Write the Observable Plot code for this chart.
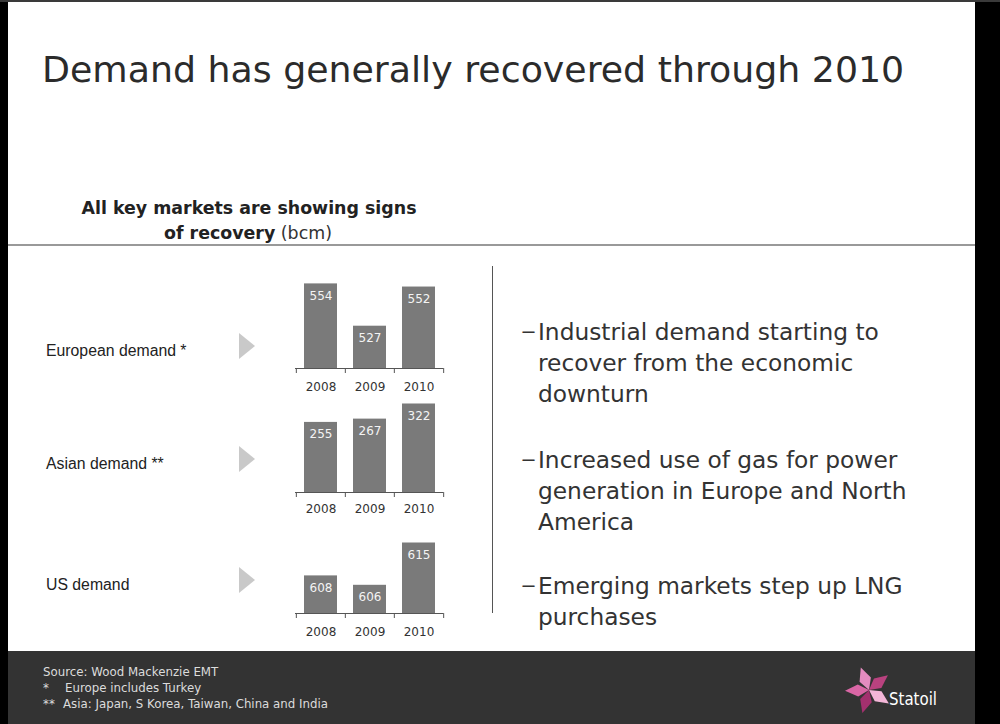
<!DOCTYPE html>
<html>
<head>
<meta charset="utf-8">
<script src="https://cdn.jsdelivr.net/npm/d3@7"></script>
<script src="https://cdn.jsdelivr.net/npm/@observablehq/plot@0.6"></script>
<style>
  html, body { margin: 0; padding: 0; background: #000; }
  #page { position: relative; width: 1000px; height: 724px; background: #000; overflow: hidden; }
  #page svg { position: absolute; }
</style>
</head>
<body>
<div id="page"></div>
<script>
// ---------------- data ----------------
const years = ["2008", "2009", "2010"];
const europeanDemand = [554, 527, 552];
const asianDemand = [255, 267, 322];
const usDemand = [608, 606, 615];
const rowLabels = ["European demand *", "Asian demand **", "US demand"];
const title = "Demand has generally recovered through 2010";
const subtitleLine1 = "All key markets are showing signs";
const subtitleLine2Bold = "of recovery";
const subtitleLine2Unit = " (bcm)";
const bullets = [
  ["Industrial demand starting to", "recover from the economic", "downturn"],
  ["Increased use of gas for power", "generation in Europe and North", "America"],
  ["Emerging markets step up LNG", "purchases"]
];
const sourceNote = "Source: Wood Mackenzie EMT";
const footnotes = [["*", "Europe includes Turkey"], ["**", "Asia: Japan, S Korea, Taiwan, China and India"]];
const brand = "Statoil";

// ---------------- background slide ----------------
const page = document.getElementById("page");
const bg = d3.select(page).append("svg")
  .attr("width", 1000).attr("height", 724)
  .style("left", "0px").style("top", "0px");

bg.append("rect").attr("x", 0).attr("y", 0).attr("width", 1000).attr("height", 724).attr("fill", "#000");
bg.append("rect").attr("x", 0).attr("y", 0).attr("width", 1000).attr("height", 2).attr("fill", "#3a3a3a");
bg.append("rect").attr("x", 8).attr("y", 2).attr("width", 967).attr("height", 649).attr("fill", "#fff");
bg.append("rect").attr("x", 8).attr("y", 651).attr("width", 967).attr("height", 73).attr("fill", "#333");

// title
bg.append("text").attr("x", 42).attr("y", 82)
  .attr("font-family", "DejaVu Sans").attr("font-size", 36.3).attr("fill", "#2b2b2b")
  .text(title);

// subtitle
bg.append("text").attr("x", 249).attr("y", 214).attr("text-anchor", "middle")
  .attr("font-family", "DejaVu Sans").attr("font-size", 17.4).attr("font-weight", "bold").attr("fill", "#222")
  .text(subtitleLine1);
const st2 = bg.append("text").attr("x", 248).attr("y", 239).attr("text-anchor", "middle")
  .attr("font-family", "DejaVu Sans").attr("font-size", 17.4).attr("fill", "#222");
st2.append("tspan").attr("font-weight", "bold").text(subtitleLine2Bold);
st2.append("tspan").attr("font-weight", "normal").attr("fill", "#333").text(subtitleLine2Unit);

// separators
bg.append("line").attr("x1", 8).attr("x2", 975).attr("y1", 245).attr("y2", 245)
  .attr("stroke", "#777").attr("stroke-width", 1.5);
bg.append("line").attr("x1", 492.5).attr("x2", 492.5).attr("y1", 266).attr("y2", 613)
  .attr("stroke", "#555").attr("stroke-width", 1);

// row labels & arrows
const rowCenters = [346, 459, 580];
rowLabels.forEach((lab, i) => {
  bg.append("text").attr("x", 46).attr("y", rowCenters[i] + 9.5)
    .attr("font-family", "Liberation Sans, Arial").attr("font-size", 15.8).attr("fill", "#222")
    .text(lab);
  const c = rowCenters[i];
  bg.append("polygon")
    .attr("points", `239,${c - 13} 255,${c} 239,${c + 13}`)
    .attr("fill", "#c9c9c9");
});

// bullets
const bulletBaselines = [[340, 371, 402], [468, 499, 530], [594, 625]];
bullets.forEach((lines, b) => {
  bg.append("text").attr("x", 521).attr("y", bulletBaselines[b][0] - 1.5)
    .attr("font-family", "DejaVu Sans").attr("font-size", 23.3).attr("fill", "#333")
    .attr("textLength", 15).attr("lengthAdjust", "spacingAndGlyphs")
    .text("\u2013");
  lines.forEach((ln, j) => {
    bg.append("text").attr("x", 538).attr("y", bulletBaselines[b][j])
      .attr("font-family", "DejaVu Sans").attr("font-size", 23.3).attr("fill", "#333")
      .text(ln);
  });
});

// footer
const foot = bg.append("g")
  .attr("font-family", "DejaVu Sans")
  .attr("font-size", 11.8).attr("fill", "#dcdcdc");
foot.append("text").attr("x", 43).attr("y", 676).text(sourceNote);
foot.append("text").attr("x", 43).attr("y", 692).text(footnotes[0][0]);
foot.append("text").attr("x", 65).attr("y", 692).text(footnotes[0][1]);
foot.append("text").attr("x", 43).attr("y", 708).text(footnotes[1][0]);
foot.append("text").attr("x", 63).attr("y", 708).text(footnotes[1][1]);

// logo star
const star = bg.append("g").attr("transform", "translate(869,690)");
const petalColors = ["#e48cc0", "#b9427f", "#f3b6d8", "#a3306e", "#d966a5"];
petalColors.forEach((col, i) => {
  star.append("polygon")
    .attr("points", "0,0 -6,-11 0,-24 6,-11")
    .attr("fill", col)
    .attr("transform", `rotate(${i * 72 - 20})`);
});
bg.append("text").attr("x", 889).attr("y", 705)
  .attr("font-family", "DejaVu Sans")
  .attr("font-size", 17).attr("fill", "#fff")
  .attr("textLength", 48).attr("lengthAdjust", "spacingAndGlyphs")
  .text(brand);

// ---------------- bar panels ----------------
const plotWidth = 148;
const step = plotWidth / years.length;

function panel(values, domain, top, tickPadding) {
  const data = years.map((y, i) => ({year: y, value: values[i]}));
  const base = domain[0];
  const svg = Plot.plot({
    width: plotWidth + 20,
    height: 124,
    marginLeft: 10,
    marginRight: 10,
    marginTop: 0,
    marginBottom: 30,
    x: {type: "band", domain: years, paddingInner: 0.33, paddingOuter: 0.165, label: null, tickSize: 0, tickPadding},
    y: {domain, axis: null},
    style: {fontFamily: "DejaVu Sans", fontSize: "12px", color: "#333", background: "transparent", overflow: "visible"},
    marks: [
      Plot.barY(data, {x: "year", y1: base, y2: "value", fill: "#7a7a7a"}),
      Plot.text(data, {x: "year", y: "value", text: d => String(d.value), dy: 12, fill: "#f4f4f4", fontSize: 12}),
      Plot.ruleY([base], {stroke: "#555", strokeWidth: 1}),
      Plot.ruleX(years, {x: d => d, y1: base, y2: base, dx: -step / 2, insetBottom: -5, stroke: "#555"}),
      Plot.ruleX([years[years.length - 1]], {x: d => d, y1: base, y2: base, dx: step / 2, insetBottom: -5, stroke: "#555"})
    ]
  });
  svg.style.position = "absolute";
  svg.style.left = "285px";
  svg.style.top = top + "px";
  page.appendChild(svg);
}

panel(europeanDemand, [500, 560], 274, 14);
panel(asianDemand, [0, 342], 398, 12);
panel(usDemand, [600, 620], 519, 14);
</script>
</body>
</html>
